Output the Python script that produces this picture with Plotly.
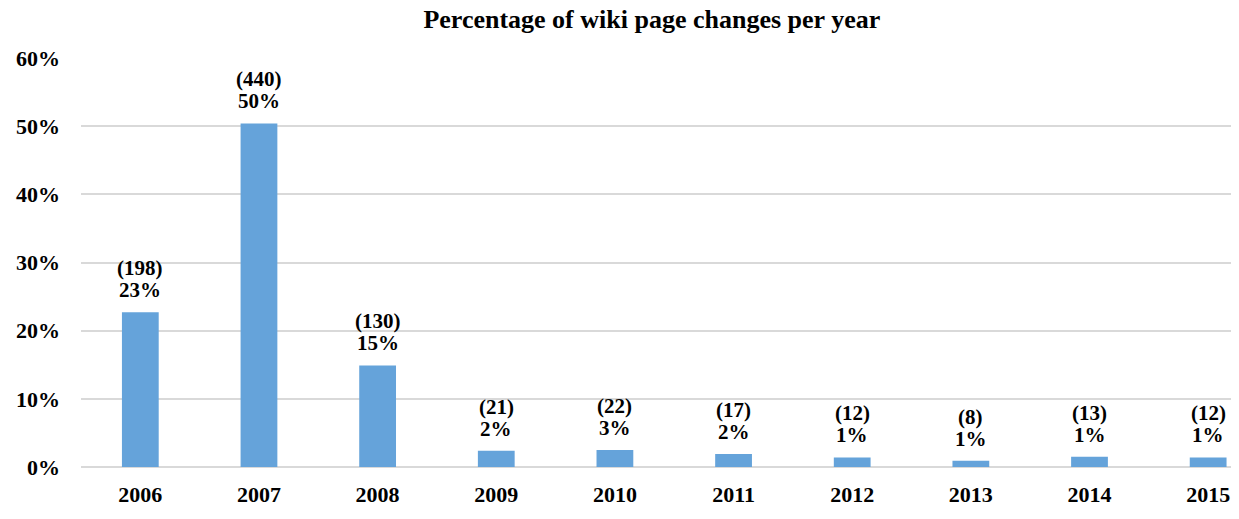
import plotly.graph_objects as go

years = ["2006", "2007", "2008", "2009", "2010", "2011", "2012", "2013", "2014", "2015"]
counts = [198, 440, 130, 21, 22, 17, 12, 8, 13, 12]
percent = [22.7, 50.4, 14.9, 2.4, 2.5, 1.9, 1.4, 0.9, 1.5, 1.4]
pct_labels = ["23%", "50%", "15%", "2%", "3%", "2%", "1%", "1%", "1%", "1%"]
y_ticks = [0, 10, 20, 30, 40, 50, 60]
y_tick_labels = ["0%", "10%", "20%", "30%", "40%", "50%", "60%"]

font_family = "Liberation Serif"
label_font = dict(family=font_family, size=21, color="#000000")

fig = go.Figure(go.Bar(
    x=years, y=percent,
    marker=dict(color="#65A3DA", line=dict(width=0)),
    width=0.31, hoverinfo="x+y",
))

for i, (val, c, p) in enumerate(zip(percent, counts, pct_labels)):
    fig.add_annotation(x=i, y=val, text=f"<b>{p}</b>", showarrow=False,
                       yanchor="bottom", yshift=8, font=label_font)
    fig.add_annotation(x=i, y=val, text=f"<b>({c})</b>", showarrow=False,
                       yanchor="bottom", yshift=30, font=label_font)

fig.update_layout(
    width=1231, height=511,
    margin=dict(l=73, r=0, t=50, b=52),
    paper_bgcolor="white", plot_bgcolor="white",
    title=dict(text="<b>Percentage of wiki page changes per year</b>",
               x=0.523, xanchor="center", y=0.996, yanchor="top",
               font=dict(family=font_family, size=26, color="#000000")),
    font=dict(family=font_family, color="#000000"),
    showlegend=False,
)
fig.update_xaxes(type="category", range=[-0.5, 9.26], showgrid=False, showline=False,
                 ticks="", ticklabelstandoff=12,
                 tickfont=dict(family=font_family, size=22, color="#000000"),
                 tickprefix="<b>", ticksuffix="</b>")
fig.update_yaxes(range=[0, 60], tickvals=y_ticks,
                 ticktext=[f"<b>{t}</b>" for t in y_tick_labels],
                 showgrid=True, gridcolor="#D9D9D9", gridwidth=1.5,
                 zeroline=True, zerolinecolor="#D9D9D9", zerolinewidth=1.5,
                 showline=False, ticks="", ticklabelstandoff=20,
                 tickfont=dict(family=font_family, size=22, color="#000000"))

fig.write_html("out.html")
